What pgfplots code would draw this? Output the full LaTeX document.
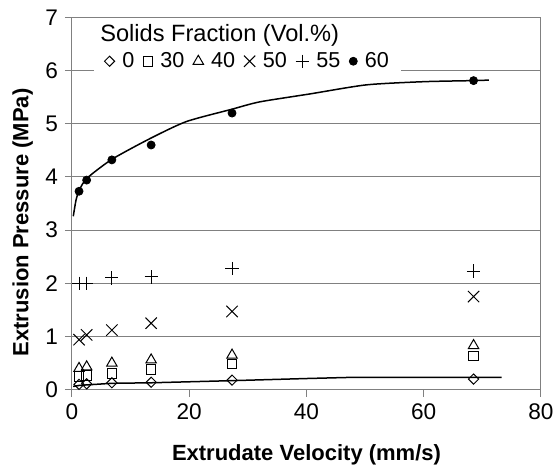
\documentclass[border=0pt]{standalone}
\usepackage{fontspec}
\setmainfont{Liberation Sans}
\usepackage{pgfplots}
\pgfplotsset{compat=1.18}
\definecolor{gridgray}{RGB}{128,128,128}
\begin{document}
\begin{tikzpicture}
\begin{axis}[
  scale only axis, width=234.5pt, height=186.2pt,
  xmin=0, xmax=80, ymin=0, ymax=7,
  xtick={0,20,...,80}, ytick={0,1,...,7},
  axis line style={gridgray, line width=0.5pt},
  tick style={gridgray, line width=0.5pt},
  tick align=outside, major tick length=3.5pt,
  tick pos=left,
  ymajorgrids, grid style={gridgray, line width=0.5pt},
  /pgf/number format/assume math mode=true,
  ticklabel style={font=\fontsize{11.3}{13}\selectfont},
  label style={font=\bfseries\fontsize{11}{13}\selectfont},
  xlabel={Extrudate Velocity (mm/s)},
  ylabel={Extrusion Pressure (MPa)},
  xlabel style={at={(axis description cs:0.5,-0.175)}, anchor=center},
  ylabel style={at={(axis description cs:-0.105,0.449)}, anchor=center},
  legend style={at={(0.045,0.882)}, anchor=west, draw=none, fill=white,
    font=\fontsize{10.8}{12}\selectfont, inner xsep=5.5pt, inner ysep=1pt,
    nodes={inner sep=0.6pt},
    /tikz/every odd column/.append style={column sep=3.2pt},
    /tikz/every even column/.append style={column sep=3.8pt}},
  legend columns=6,
  legend image code/.code={\draw[#1,only marks] plot coordinates {(0pt,0pt)};},
]
% fitted curves
\addplot[black, line width=0.75pt, smooth, tension=0.4, forget plot] coordinates {
 (0.22,3.26) (0.68,3.56) (1.2,3.74) (2.5,3.97) (6.8,4.33) (13.3,4.72) (19.5,5.04)
 (27.2,5.27) (32,5.41) (40.6,5.56) (50.2,5.73) (60,5.79) (68.4,5.81) (71.1,5.82)};
\addplot[black, line width=0.75pt, forget plot] coordinates {
 (0.2,0.06) (1.2,0.08) (2.5,0.09) (6.8,0.12) (13.5,0.13) (27.3,0.17) (40,0.21) (47,0.23) (55,0.23) (73.3,0.23)};
% data
\addplot[only marks, black, mark=square, mark size=1.8pt, mark options={rotate=45, line width=0.5pt}] coordinates {
 (1.2,0.10) (2.5,0.11) (6.8,0.13) (13.5,0.14) (27.3,0.18) (68.5,0.20)};
\addlegendentry{0}
\addplot[only marks, black, mark=square, mark size=2.4pt, mark options={line width=0.5pt}] coordinates {
 (1.2,0.25) (2.5,0.27) (6.8,0.31) (13.5,0.38) (27.3,0.48) (68.5,0.63)};
\addlegendentry{30}
\addplot[only marks, black, mark=triangle, mark size=3pt, mark options={line width=0.5pt}] coordinates {
 (1.2,0.40) (2.5,0.43) (6.8,0.50) (13.5,0.56) (27.3,0.65) (68.5,0.83)};
\addlegendentry{40}
\addplot[only marks, black, mark=x, mark size=4pt, mark options={line width=0.5pt}] coordinates {
 (1.2,0.94) (2.5,1.03) (6.8,1.12) (13.5,1.25) (27.3,1.47) (68.5,1.75)};
\addlegendentry{50}
\addplot[only marks, black, mark=+, mark size=3.3pt, mark options={line width=0.5pt}] coordinates {
 (1.2,2.00) (2.5,2.00) (6.8,2.10) (13.5,2.12) (27.3,2.28) (68.5,2.23)};
\addlegendentry{55}
\addplot[only marks, black, mark=*, mark size=2pt] coordinates {
 (1.2,3.73) (2.5,3.94) (6.8,4.32) (13.5,4.60) (27.3,5.20) (68.5,5.81)};
\addlegendentry{60}
\node[anchor=west, inner sep=0pt, font=\fontsize{11.8}{13}\selectfont] at (axis cs:4.77,6.66) {Solids Fraction (Vol.\%)};
\end{axis}
\pgfresetboundingbox
\path (-36pt,-41.15pt) rectangle (241pt,194.85pt);
\end{tikzpicture}
\end{document}
